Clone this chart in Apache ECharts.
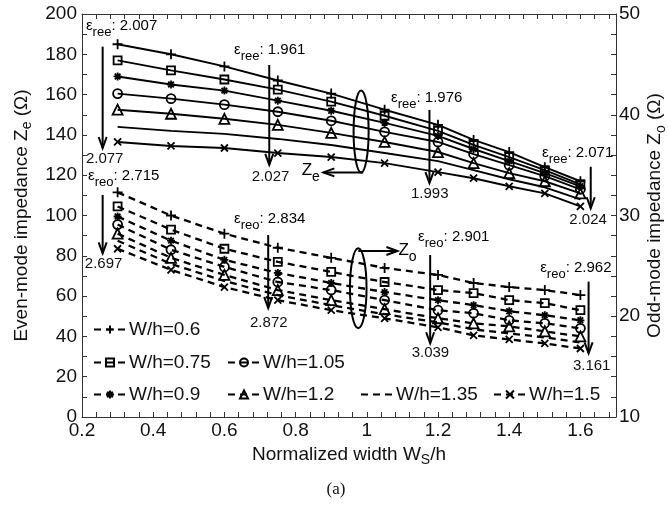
<!DOCTYPE html>
<html><head><meta charset="utf-8">
<script src="https://cdn.jsdelivr.net/npm/echarts@6/dist/echarts.min.js"></script>
<style>html,body{margin:0;padding:0;background:#fff}#c{width:668px;height:505px}</style>
</head><body><div id="c"></div>
<script>
// ---------- data ----------
const xValues = [0.3, 0.45, 0.6, 0.75, 0.9, 1.05, 1.2, 1.3, 1.4, 1.5, 1.6];
const seriesNames = ['W/h=0.6', 'W/h=0.75', 'W/h=0.9', 'W/h=1.05', 'W/h=1.2', 'W/h=1.35', 'W/h=1.5'];
// even-mode impedance Ze (ohm, left axis)
const evenW06  = [185, 180, 174, 167, 160.5, 152.5, 145, 137.5, 131.5, 124, 117];
const evenW075 = [177, 172, 167.5, 162.5, 156.5, 149.5, 142, 135, 129, 122.5, 115.5];
const evenW09  = [169, 165, 162, 157, 152, 146, 139.5, 133, 127, 121, 114.5];
const evenW105 = [160.5, 158, 155, 151.5, 147, 141.5, 136.5, 130.5, 125, 119.5, 113];
const evenW12  = [152.5, 150.5, 148, 145, 141, 136.5, 131.5, 126, 121, 117, 111];
const evenW135 = [144, 142, 140.5, 138, 135, 131, 127, 122.5, 118, 114, 108];
const evenW15  = [136.5, 134.5, 133.5, 131, 129, 126, 121.5, 118.5, 114.5, 111, 104.5];
// odd-mode impedance Zo (ohm, right axis)
const oddW06  = [32.3, 30.0, 28.2, 26.8, 25.8, 24.8, 24.1, 23.3, 22.9, 22.6, 22.1];
const oddW075 = [30.9, 28.6, 26.7, 25.4, 24.4, 23.4, 22.6, 22.3, 21.6, 21.3, 20.6];
const oddW09  = [29.9, 27.5, 25.6, 24.3, 23.3, 22.4, 21.6, 21.1, 20.5, 20.1, 19.6];
const oddW105 = [29.1, 26.6, 24.9, 23.4, 22.6, 21.6, 20.6, 20.3, 19.6, 19.3, 18.8];
const oddW12  = [28.2, 25.8, 24.1, 22.6, 21.6, 20.7, 19.8, 19.3, 19.0, 18.5, 18.0];
const oddW135 = [27.5, 25.2, 23.5, 22.1, 21.1, 20.2, 19.4, 18.7, 18.3, 17.9, 17.4];
const oddW15  = [26.7, 24.6, 22.9, 21.6, 20.6, 19.8, 18.9, 18.1, 17.7, 17.3, 16.8];
// effective permittivity annotations
const ereeTop = ['2.007', '1.961', '1.976', '2.071'];
const ereeBottom = ['2.077', '2.027', '1.993', '2.024'];
const ereoTop = ['2.715', '2.834', '2.901', '2.962'];
const ereoBottom = ['2.697', '2.872', '3.039', '3.161'];
const xTickLabels = [0.2, 0.4, 0.6, 0.8, 1, 1.2, 1.4, 1.6];
const leftTickLabels = [0, 20, 40, 60, 80, 100, 120, 140, 160, 180, 200];
const rightTickLabels = [10, 20, 30, 40, 50];

const evenData = [evenW06, evenW075, evenW09, evenW105, evenW12, evenW135, evenW15];
const oddData = [oddW06, oddW075, oddW09, oddW105, oddW12, oddW135, oddW15];

// ---------- styles ----------
const FONT = 'Liberation Sans, Arial, Helvetica, sans-serif';
const symbols = [
  {s: 'path://M5,0L5,10M0,5L10,5', size: 10},
  {s: 'rect', size: 8},
  {s: 'path://M5,0L5,10M0,5L10,5M1.5,1.5L8.5,8.5M8.5,1.5L1.5,8.5', size: 8},
  {s: 'circle', size: 9},
  {s: 'triangle', size: 10},
  {s: null, size: 0},
  {s: 'path://M0,0L10,10M10,0L0,10', size: 7}
];
const symStyle = {color: 'rgba(0,0,0,0)', borderColor: '#000', borderWidth: 1.8};
const noSymStyle = {color: 'rgba(0,0,0,0)', borderColor: 'rgba(0,0,0,0)', borderWidth: 0};

const near = (v, list) => list.some(t => Math.abs(t - v) < 1e-6);

const series = [];
function addSeries(name, i, yIdx, values, lineStyle) {
  const has = symbols[i].s !== null;
  series.push({
    name, type: 'line', xAxisIndex: 0, yAxisIndex: yIdx,
    data: xValues.map((x, k) => [x, values[k]]),
    symbol: has ? symbols[i].s : 'circle', symbolSize: has ? symbols[i].size : 1, showSymbol: has,
    itemStyle: has ? symStyle : noSymStyle,
    lineStyle, emphasis: {disabled: true}, z: 3
  });
}
seriesNames.forEach((name, i) => addSeries(name, i, 1, oddData[i], {color: '#000', width: 2.3, type: [7, 5]}));
seriesNames.forEach((name, i) => addSeries(name, i, 0, evenData[i], {color: '#000', width: 1.9}));

const axisCommon = {
  axisLine: {show: true, lineStyle: {color: '#333', width: 1}},
  axisTick: {show: true, inside: true, length: 5, lineStyle: {color: '#333'}},
  splitLine: {show: false},
  axisLabel: {color: '#111', fontSize: 19, fontFamily: FONT},
  nameTextStyle: {color: '#111', fontSize: 19, fontFamily: FONT,
    rich: {sub: {fontSize: 14, fontFamily: FONT, color: '#111', padding: [12, 0, 0, 0]}}}
};

const legendRows = [
  {name: 'W/h=0.6', left: 93, top: 320},
  {name: 'W/h=0.75', left: 93, top: 353},
  {name: 'W/h=1.05', left: 227, top: 353},
  {name: 'W/h=0.9', left: 93, top: 385},
  {name: 'W/h=1.2', left: 227, top: 385},
  {name: 'W/h=1.35', left: 360, top: 385},
  {name: 'W/h=1.5', left: 493, top: 385}
];

const option = {
  animation: false,
  backgroundColor: '#fff',
  grid: {left: 82, right: 52, top: 14, bottom: 88, outerBoundsMode: 'none', containLabel: false},
  legend: legendRows.map(r => ({
    data: [r.name], left: r.left, top: r.top, padding: 0,
    itemWidth: 32, itemHeight: 10, itemGap: 0,
    textStyle: {fontSize: 19, fontFamily: FONT, color: '#111', padding: [0, 0, 0, -2]},
    selectedMode: false
  })),
  xAxis: [
    Object.assign({}, axisCommon, {
      type: 'value', position: 'bottom', min: 0.2, max: 1.7, interval: 0.04,
      axisLabel: Object.assign({}, axisCommon.axisLabel, {
        margin: 4,
        formatter: v => near(v, xTickLabels) ? String(parseFloat(v.toFixed(1))) : ''
      }),
      name: 'Normalized width W{sub|S}/h', nameLocation: 'middle', nameGap: 18
    }),
    Object.assign({}, axisCommon, {
      type: 'value', position: 'top', min: 0.2, max: 1.7, interval: 0.04,
      axisLabel: {show: false}
    })
  ],
  yAxis: [
    Object.assign({}, axisCommon, {
      type: 'value', position: 'left', min: 0, max: 200, interval: 10,
      axisLabel: Object.assign({}, axisCommon.axisLabel, {
        margin: 5,
        formatter: v => near(v, leftTickLabels) ? String(v) : ''
      }),
      name: 'Even-mode impedance Z{sub|e} (Ω)', nameLocation: 'middle', nameRotate: 90, nameGap: 44
    }),
    Object.assign({}, axisCommon, {
      type: 'value', position: 'right', min: 10, max: 50, interval: 2,
      axisLabel: Object.assign({}, axisCommon.axisLabel, {
        margin: 3,
        formatter: v => near(v, rightTickLabels) ? String(v) : ''
      }),
      name: 'Odd-mode impedance Z{sub|o} (Ω)', nameLocation: 'middle', nameRotate: 90,
      nameGap: 26, nameMoveOverlap: false
    })
  ],
  series
};

const chart = echarts.init(document.getElementById('c'), null, {renderer: 'canvas'});
chart.setOption(option);

// ---------- annotations (placed in data coordinates of the left axis) ----------
const P = (x, y) => chart.convertToPixel({xAxisIndex: 0, yAxisIndex: 0}, [x, y]);
const arrows = [
  [0.258, 183.8, 133.5], [0.726, 174.7, 125.1], [1.176, 152.4, 116.1], [1.629, 124.2, 103.6],
  [0.258, 110.2, 81.2], [0.723, 90.3, 54.1], [1.178, 80.4, 36.6], [1.623, 67.2, 31.6]
];
const topLabels = [
  [0.211, 194.0, 'ree', ereeTop[0]], [0.627, 182.1, 'ree', ereeTop[1]],
  [1.068, 158.5, 'ree', ereeTop[2]], [1.492, 131.0, 'ree', ereeTop[3]],
  [0.217, 119.6, 'reo', ereoTop[0]], [0.627, 98.1, 'reo', ereoTop[1]],
  [1.144, 89.3, 'reo', ereoTop[2]], [1.487, 73.8, 'reo', ereoTop[3]]
];
const bottomLabels = [
  [0.211, 128.0, ereeBottom[0]], [0.677, 119.3, ereeBottom[1]],
  [1.124, 110.5, ereeBottom[2]], [1.569, 97.8, ereeBottom[3]],
  [0.208, 75.9, ereoBottom[0]], [0.672, 46.8, ereoBottom[1]],
  [1.126, 31.6, ereoBottom[2]], [1.579, 25.5, ereoBottom[3]]
];
const richAnn = {
  e: {fontSize: 15, fontFamily: FONT, color: '#111'},
  s: {fontSize: 13, fontFamily: FONT, color: '#111', padding: [13, 0, 0, 0]},
  n: {fontSize: 15, fontFamily: FONT, color: '#111'},
  Z: {fontSize: 17, fontFamily: FONT, color: '#111'},
  zs: {fontSize: 14, fontFamily: FONT, color: '#111', padding: [14, 0, 0, 0]}
};
const g = [];
arrows.forEach(([x, y1, y2]) => {
  const a = P(x, y1), b = P(x, y2);
  g.push({type: 'line', shape: {x1: a[0], y1: a[1], x2: b[0], y2: b[1]}, style: {stroke: '#000', lineWidth: 2}, z: 10});
  g.push({type: 'polyline', shape: {points: [[b[0] - 4, b[1] - 11], [b[0], b[1]], [b[0] + 4, b[1] - 11]]}, style: {stroke: '#000', lineWidth: 2, fill: null}, z: 10});
});
topLabels.forEach(([x, y, sub, val]) => {
  const p = P(x, y);
  g.push({type: 'text', x: p[0], y: p[1], z: 11,
    style: {text: '{e|ε}{s|' + sub + '}{n|: ' + val + '}', rich: richAnn, align: 'left', verticalAlign: 'middle'}});
});
bottomLabels.forEach(([x, y, val]) => {
  const p = P(x, y);
  g.push({type: 'text', x: p[0], y: p[1], z: 11,
    style: {text: val, fontSize: 15, fontFamily: FONT, fill: '#111', align: 'left', verticalAlign: 'middle'}});
});
// ellipses
[[0.984, 141.7, 0.0211, 20.35], [0.976, 63.9, 0.0233, 19.85]].forEach(([x, y, dx, dy]) => {
  const c = P(x, y), r = P(x + dx, y + dy);
  g.push({type: 'ellipse', shape: {cx: c[0], cy: c[1], rx: Math.abs(r[0] - c[0]), ry: Math.abs(c[1] - r[1])},
    style: {fill: null, stroke: '#000', lineWidth: 2}, z: 10});
});
// Ze arrow (pointing left) and Zo arrow (pointing right)
[[0.990, 0.878, 121.4], [0.976, 1.086, 82.4]].forEach(([xa, xb, y]) => {
  const a = P(xa, y), b = P(xb, y);
  const d = b[0] > a[0] ? -1 : 1;
  g.push({type: 'line', shape: {x1: a[0], y1: a[1], x2: b[0], y2: b[1]}, style: {stroke: '#000', lineWidth: 2}, z: 10});
  g.push({type: 'polyline', shape: {points: [[b[0] + d * 11, b[1] - 4], [b[0], b[1]], [b[0] + d * 11, b[1] + 4]]}, style: {stroke: '#000', lineWidth: 2, fill: null}, z: 10});
});
[[0.817, 122.3, 'e'], [1.089, 82.9, 'o']].forEach(([x, y, s]) => {
  const p = P(x, y);
  g.push({type: 'text', x: p[0], y: p[1], z: 11,
    style: {text: '{Z|Z}{zs|' + s + '}', rich: richAnn, align: 'left', verticalAlign: 'middle'}});
});
// caption
g.push({type: 'text', x: 336, y: 490, z: 11,
  style: {text: '(a)', fontSize: 17, fontFamily: 'Liberation Serif, Times New Roman, serif', fill: '#111', align: 'center', verticalAlign: 'middle'}});

chart.setOption({graphic: g});
</script>
</body></html>
